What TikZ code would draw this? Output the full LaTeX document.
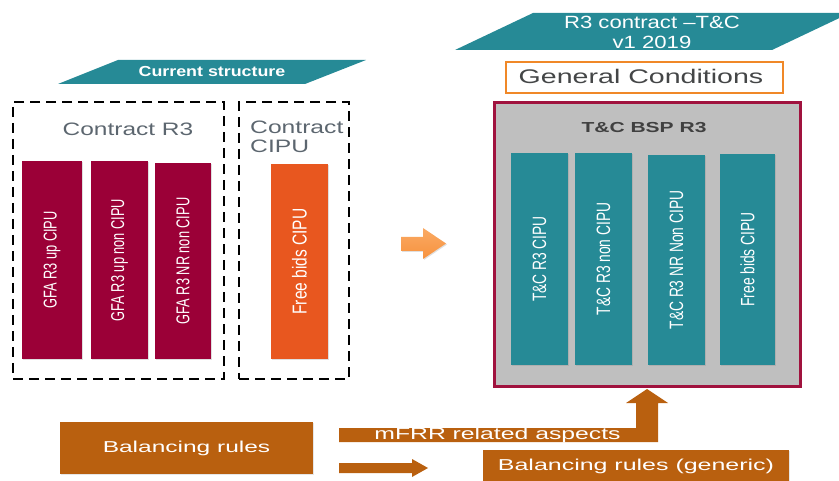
\documentclass[tikz,border=0pt]{standalone}
\usepackage{fontspec}
\setmainfont{Liberation Sans}
\usetikzlibrary{shadows}

\definecolor{tealbar}{RGB}{38,138,150}
\definecolor{maroonbar}{RGB}{155,0,55}
\definecolor{maroonframe}{RGB}{160,18,62}
\definecolor{framegray}{RGB}{191,191,191}
\definecolor{freeorange}{RGB}{232,87,31}
\definecolor{arroworange}{RGB}{247,146,62}
\definecolor{arrowlight}{RGB}{250,170,100}
\definecolor{gcorange}{RGB}{240,136,40}
\definecolor{brownbox}{RGB}{185,96,15}
\definecolor{labelgray}{RGB}{92,102,111}
\definecolor{darkgray}{RGB}{64,64,64}

% horizontal stretch of a text
\newcommand{\hstr}[2]{\scalebox{#1}[1]{#2}}
% thickened glyphs for text set along a bar
\newcommand{\vstr}[2]{\scalebox{1}[#1]{#2}}
\newcommand{\fs}[1]{\fontsize{#1}{#1}\selectfont}

\begin{document}
\begin{tikzpicture}[x=1pt,y=-1pt,
  bar/.style={inner sep=0pt, draw=none,
    drop shadow={shadow xshift=1.2pt, shadow yshift=-1.2pt, opacity=0.25}},
  gfabar/.style={bar, fill=maroonbar},
  tcbar/.style={bar, fill=tealbar},
  bartext/.style={rotate=90, text=white, inner sep=0pt},
  dashbox/.style={draw=black, line width=2.6pt, dash pattern=on 10pt off 6pt, inner sep=0pt},
  brownnode/.style={fill=brownbox, inner sep=0pt, text=white,
    drop shadow={shadow xshift=1pt, shadow yshift=-1pt, opacity=0.2}},
  banner/.style={fill=tealbar, draw=none}
]
\useasboundingbox (0,0) rectangle (839,481);

% ---- left side: current structure ----
\fill[banner] (58,84) -- (118,60) -- (366,60) -- (305,84) -- cycle;
\node[text=white, font=\bfseries\fs{14.5}] (cur) at (212,72) {\hstr{1.23}{Current structure}};

\node[dashbox, minimum width=211, minimum height=277] (cr3) at (118.5,240.5) {};
\node[dashbox, minimum width=110, minimum height=277] (ccipu) at (294,240.5) {};

\node[text=labelgray, font=\fs{18}] (cr3t) at (128,129.5) {\hstr{1.36}{Contract R3}};
\node[text=labelgray, font=\fontsize{18}{19}\selectfont, align=left, anchor=west, inner sep=0pt]
  (ccipt) at (250,136.5) {\hstr{1.37}{Contract}\\\hstr{1.37}{CIPU}};

\node[gfabar, minimum width=60, minimum height=198] (g1) at (52,260) {};
\node[gfabar, minimum width=57, minimum height=198] (g2) at (119.5,260) {};
\node[gfabar, minimum width=56, minimum height=196] (g3) at (183,261) {};
\node[bar, fill=freeorange, minimum width=57, minimum height=195] (fb) at (299.5,261.5) {};

\node[bartext, font=\fs{12.8}] (g1t) at (g1.center) {\vstr{1.45}{GFA R3 up CIPU}};
\node[bartext, font=\fs{12.8}] (g2t) at (g2.center) {\vstr{1.45}{GFA R3 up non CIPU}};
\node[bartext, font=\fs{12.8}] (g3t) at (g3.center) {\vstr{1.45}{GFA R3 NR non CIPU}};
\node[bartext, font=\fs{15.5}] (fbt) at (fb.center) {\vstr{1.3}{Free bids CIPU}};

% ---- transition arrow ----
\shade[top color=arrowlight, bottom color=arroworange,
  drop shadow={shadow xshift=1pt, shadow yshift=-1pt, opacity=0.25}]
  (401,237) -- (423,237) -- (423,228) -- (446,243.5) -- (423,259) -- (423,251) -- (401,251) -- cycle;

% ---- right side: T&C ----
\fill[banner] (455,50) -- (533,13) -- (839,13) -- (839,18.2) -- (772,50) -- cycle;
\node[text=white, font=\fontsize{17.7}{19.5}\selectfont, align=center] (tct) at (652,32.5)
  {\hstr{1.25}{R3 contract –T\&C}\\\hstr{1.25}{v1 2019}};

\node[draw=gcorange, line width=2.5pt, fill=white, minimum width=277, minimum height=31, inner sep=0pt]
  (gc) at (644.5,77.5) {};
\node[text=darkgray!85!labelgray, font=\fs{19.7}] (gct) at (641,76.5) {\hstr{1.45}{General Conditions}};

\node[draw=maroonframe, line width=3pt, fill=framegray, minimum width=306, minimum height=284, inner sep=0pt,
  drop shadow={shadow xshift=1.5pt, shadow yshift=-1.5pt, opacity=0.25}] (frame) at (647,245) {};
\node[text=darkgray, font=\bfseries\fs{14.5}] (bsp) at (644,128) {\hstr{1.45}{T\&C BSP R3}};

\node[tcbar, minimum width=57, minimum height=212] (t1) at (539.5,259) {};
\node[tcbar, minimum width=57, minimum height=212] (t2) at (603.5,259) {};
\node[tcbar, minimum width=57, minimum height=210] (t3) at (676.5,260) {};
\node[tcbar, minimum width=55, minimum height=211] (t4) at (747.5,259.5) {};

\node[bartext, font=\fs{13.8}] (t1t) at (t1.center) {\vstr{1.4}{T\&C R3 CIPU}};
\node[bartext, font=\fs{13.8}] (t2t) at (t2.center) {\vstr{1.4}{T\&C R3 non CIPU}};
\node[bartext, font=\fs{13.8}] (t3t) at (t3.center) {\vstr{1.4}{T\&C R3 NR Non CIPU}};
\node[bartext, font=\fs{13.8}] (t4t) at (t4.center) {\vstr{1.4}{Free bids CIPU}};

% ---- bottom: balancing rules ----
\node[brownnode, minimum width=253, minimum height=52, font=\fs{15.8}] (bal) at (186.5,448)
  {\hstr{1.55}{Balancing rules}};
\node[brownnode, minimum width=306, minimum height=33, font=\fs{15.8}] (gen) at (636,466.5)
  {\hstr{1.58}{Balancing rules (generic)}};

% bent block arrow up into the T&C frame
\fill[brownbox] (339,428) -- (636,428) -- (636,403) -- (626,403) -- (647,389) -- (668,403)
  -- (658,403) -- (658,442) -- (339,442) -- cycle;
\node[text=white, font=\fs{16.5}, inner sep=0pt] (mfrr) at (497.5,435.5) {\hstr{1.5}{mFRR related aspects}};

% straight block arrow to the generic rules
\fill[brownbox] (339,463) -- (412,463) -- (412,459) -- (428,468) -- (412,477) -- (412,473) -- (339,473) -- cycle;
\end{tikzpicture}
\end{document}
